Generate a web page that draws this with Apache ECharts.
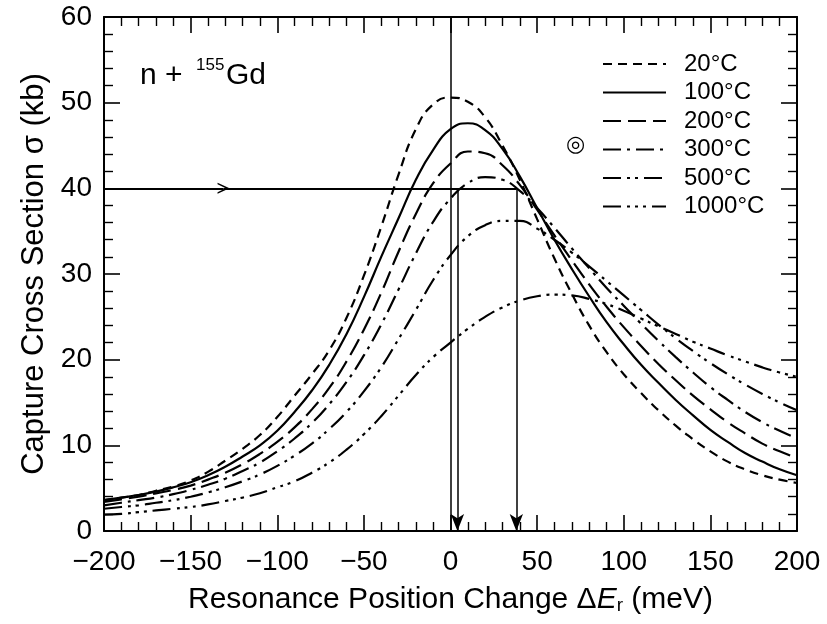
<!DOCTYPE html>
<html><head><meta charset="utf-8">
<script src="https://cdn.jsdelivr.net/npm/echarts@6/dist/echarts.min.js"></script>
<style>html,body{margin:0;padding:0;background:#fff}#c{width:827px;height:624px}</style>
</head><body><div id="c"></div>
<script>
const energies = [-200,-190,-180,-170,-160,-150,-140,-130,-120,-110,-100,-90,-80,-70,-60,-50,-40,-30,-20,-10,0,10,20,30,40,50,60,70,80,90,100,110,120,130,140,150,160,170,180,190,200];
const seriesNames = ['20°C','100°C','200°C','300°C','500°C','1000°C'];
const sigma20 = [3.6,3.9,4.2,4.7,5.2,5.9,6.9,8.2,9.6,11.2,13.3,15.8,18.3,21.1,24.9,29.8,35.5,41.6,46.9,49.8,50.6,50.1,48.3,45.0,41.0,36.4,31.8,27.7,24.0,20.9,18.3,16.1,14.1,12.3,10.7,9.3,8.1,7.2,6.5,6.0,5.6];
const sigma100 = [3.6,3.9,4.2,4.6,5.1,5.7,6.5,7.5,8.7,10.0,11.7,13.9,16.4,19.4,23.0,27.3,32.0,36.5,41.0,44.5,46.9,47.6,46.8,44.6,41.4,37.7,34.0,30.6,27.4,24.4,21.8,19.4,17.3,15.3,13.5,11.8,10.4,9.1,8.1,7.2,6.5];
const sigma200 = [3.4,3.7,4.0,4.4,4.8,5.3,6.0,6.8,7.8,9.0,10.4,12.1,14.2,16.7,19.8,23.5,27.8,32.6,37.0,40.6,42.9,44.3,44.1,42.7,40.4,37.5,34.5,31.6,28.8,26.2,23.8,21.6,19.5,17.6,15.8,14.2,12.7,11.4,10.2,9.3,8.5];
const sigma300 = [3.0,3.3,3.6,3.9,4.3,4.8,5.4,6.1,7.0,8.0,9.3,10.8,12.6,14.8,17.4,20.5,24.1,28.2,32.4,36.1,38.8,40.6,41.3,41.0,39.7,37.7,35.4,33.0,30.7,28.4,26.3,24.2,22.2,20.3,18.5,16.8,15.3,13.9,12.7,11.7,10.8];
const sigma500 = [2.6,2.8,3.0,3.3,3.6,4.0,4.5,5.1,5.8,6.6,7.6,8.8,10.2,11.9,13.9,16.3,19.1,22.4,25.8,29.3,32.2,34.4,35.7,36.2,36.2,35.3,34.0,32.5,30.9,29.2,27.5,25.8,24.1,22.5,21.0,19.6,18.3,17.1,16.0,15.0,14.1];
const sigma1000 = [1.9,2.0,2.2,2.4,2.6,2.8,3.1,3.5,3.9,4.4,5.1,5.8,6.8,8.0,9.5,11.3,13.4,15.8,18.2,20.3,22.0,23.6,25.0,26.1,26.9,27.4,27.6,27.5,27.1,26.5,25.7,24.8,23.9,23.0,22.1,21.3,20.5,19.8,19.1,18.5,18.0];
const allSigma = [sigma20,sigma100,sigma200,sigma300,sigma500,sigma1000];
const dashes = [[9,6],'solid',[18,7],[18,6,3,6],[18,6,3,5,3,6],[18,6,3,5,3,5,3,6]];
const readLevel = 40;       // horizontal read-off level (kb)
const readArrowX = -131;    // chevron on horizontal line
const shiftLow = 4;         // left vertical read line
const shiftHigh = 38;       // right vertical read line

const FONT = '"Liberation Sans", Arial, Helvetica, sans-serif';
const chart = echarts.init(document.getElementById('c'), null, {renderer:'canvas'});

const chevron = 'path://M0,10 L5,0 L10,10 L8.6,10 L5,3.2 L1.4,10 Z';

const series = seriesNames.map((n,k)=>({
  name:n, type:'line', xAxisIndex:0, yAxisIndex:0,
  data: energies.map((e,i)=>[e, allSigma[k][i]]),
  smooth:true, symbol:'none', showSymbol:false,
  lineStyle:{color:'#000', width:2.2, type:dashes[k]},
  itemStyle:{color:'#000'},
  silent:true
}));
series.push({
  type:'line', data:[], xAxisIndex:0, yAxisIndex:0, silent:true,
  markLine:{
    silent:true, animation:false,
    label:{show:false},
    lineStyle:{color:'#000', type:'solid', width:2},
    data:[
      [{coord:[-200,readLevel], symbol:'none'},{coord:[readArrowX,readLevel], symbol:chevron, symbolSize:[11,12]}],
      [{coord:[readArrowX,readLevel], symbol:'none'},{coord:[shiftHigh,readLevel], symbol:'none'}],
      [{coord:[0,60], symbol:'none', lineStyle:{width:1.5}},{coord:[0,0], symbol:'none'}],
      [{coord:[shiftLow,readLevel], symbol:'none', lineStyle:{width:1.5}},{coord:[shiftLow,0], symbol:'arrow', symbolSize:[10,17]}],
      [{coord:[shiftHigh,readLevel], symbol:'none', lineStyle:{width:1.5}},{coord:[shiftHigh,0], symbol:'arrow', symbolSize:[10,17]}]
    ]
  }
});

const tickCommon = {inside:true, length:16, lineStyle:{color:'#000', width:1.6}};
const minorCommon = {show:true, splitNumber:5, length:9, lineStyle:{color:'#000', width:1.4}};
const lineCommon = {show:true, onZero:false, lineStyle:{color:'#000', width:2}};
const fmtX = v => v < 0 ? '\u2212' + Math.abs(v) : String(v);

chart.setOption({
  animation:false,
  backgroundColor:'#fff',
  grid:{left:104, right:30, top:17, bottom:93, containLabel:false},
  legend:{
    data:seriesNames, orient:'vertical', left:597, top:47,
    itemWidth:63, itemHeight:14, itemGap:4.5,
    itemStyle:{color:'rgba(0,0,0,0)', borderWidth:0, opacity:0},
    textStyle:{fontSize:24, fontFamily:FONT, color:'#000', padding:[0,0,0,13], lineHeight:24},
    selectedMode:false
  },
  xAxis:[
    {type:'value', min:-200, max:200, interval:50, position:'bottom',
     axisLine:lineCommon, axisTick:tickCommon, minorTick:minorCommon, splitLine:{show:false},
     axisLabel:{fontSize:28, fontFamily:FONT, color:'#000', margin:17, formatter:fmtX},
     name:'{n|Resonance Position Change \u0394}{i|E}{s|r}{n| (meV)}', nameLocation:'middle', nameGap:54,
     nameTextStyle:{fontSize:30, fontFamily:FONT, color:'#000',
       rich:{n:{fontSize:30, fontFamily:FONT, color:'#000'}, i:{fontSize:30, fontStyle:'italic', fontFamily:FONT, color:'#000'}, s:{fontSize:19, fontFamily:FONT, color:'#000', verticalAlign:'bottom', padding:[10,0,0,0]}}}},
    {type:'value', min:-200, max:200, interval:50, position:'top',
     axisLine:lineCommon, axisTick:tickCommon, minorTick:minorCommon, splitLine:{show:false},
     axisLabel:{show:false}}
  ],
  yAxis:[
    {type:'value', min:0, max:60, interval:10, position:'left',
     axisLine:lineCommon, axisTick:tickCommon, minorTick:minorCommon, splitLine:{show:false},
     axisLabel:{fontSize:28, fontFamily:FONT, color:'#000', margin:12},
     name:'Capture Cross Section \u03c3 (kb)', nameLocation:'middle', nameGap:54,
     nameTextStyle:{fontSize:31, fontFamily:FONT, color:'#000'}},
    {type:'value', min:0, max:60, interval:10, position:'right',
     axisLine:lineCommon, axisTick:tickCommon, minorTick:minorCommon, splitLine:{show:false},
     axisLabel:{show:false}}
  ],
  graphic:[
    {type:'text', left:140, top:61, style:{text:'n + ', font:'30px ' + FONT, fill:'#000'}},
    {type:'text', left:196, top:57, style:{text:'155', font:'17px ' + FONT, fill:'#000'}},
    {type:'text', left:226, top:61, style:{text:'Gd', font:'30px ' + FONT, fill:'#000'}},
    {type:'text', left:566, top:134, style:{text:'\u25CE', font:'22px "DejaVu Sans"', fill:'#000'}}
  ],
  series:series
});
</script></body></html>
